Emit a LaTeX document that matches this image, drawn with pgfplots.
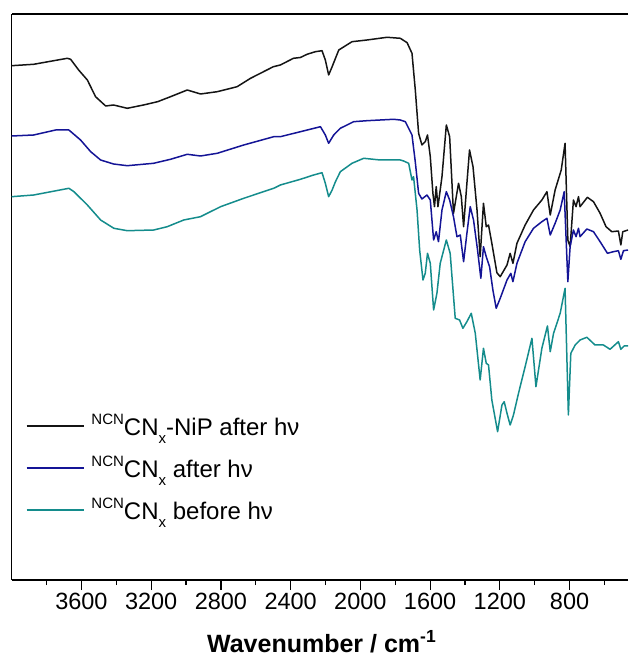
\documentclass[border=0pt]{standalone}
\usepackage{pgfplots}
\pgfplotsset{compat=1.18}
\usepackage{pgfplotstable}
\usepackage{fontspec}
\setmainfont{Liberation Sans}
\definecolor{cblack}{RGB}{20,20,20}
\definecolor{cblue}{RGB}{20,20,150}
\definecolor{cteal}{RGB}{20,140,140}
\newcommand\sbx[1]{\raisebox{-0.36em}{\fontsize{15}{15}\selectfont #1}}
\newcommand\spx[1]{\raisebox{0.42em}{\fontsize{15}{15}\selectfont #1}}

\pgfplotstableread{
wn I
4000 514.3
3874 515.7
3681 521.7
3662 520.7
3616 510
3566 500
3519 483.3
3461 474
3416 475
3337 471.7
3244 475
3163 478.3
3089 483.3
2993 490
2917 486
2821 488.3
2707 493.3
2630 501.7
2499 513.3
2459 515
2384 521.7
2344 522.5
2306 525.7
2258 528.3
2220 529.3
2201 520
2182 505
2162 513.3
2124 530
2048 538.3
1962 540
1847 542.7
1771 541.7
1732 537.3
1704 526.7
1685 490
1675 467
1666 446.7
1647 435
1628 438.3
1615 445
1599 423.3
1584 386.7
1575 373.3
1565 393.3
1555 373.3
1532 403.3
1507 455
1488 443.3
1466 366.7
1437 396.7
1421 383.3
1408 353.3
1389 396.7
1374 430
1354 413.3
1331 370
1313 323.3
1294 376.7
1278 353.3
1265 355
1246 336.7
1217 307.3
1198 303.3
1159 315
1141 326.7
1125 316.7
1102 336.7
1055 355
1007 370
959 380
930 388.3
911 365
883 390
848 410
826 436.7
810 340
797 333.3
778 380
763 373.3
749 383.3
740 373.3
698 382.7
663 378.3
625 366.7
591 353.3
558 348.3
520 349
506 335
495 348.3
465 350
}\tblack

\pgfplotstableread{
wn I
4000 444
3874 445
3748 450
3672 450
3605 440
3547 428.3
3490 420
3416 416
3337 414.3
3186 416.7
3089 420.7
2993 425.7
2917 424
2821 426.7
2669 435
2497 443.3
2459 443.3
2344 448.3
2229 453.3
2201 445
2182 436.7
2153 445
2115 451.7
2039 458.3
1962 459.3
1809 460.7
1771 460
1742 458.3
1704 445
1685 418
1666 386.7
1647 381
1618 385
1599 380
1580 340
1565 348.3
1552 338.3
1532 370
1507 388.3
1488 380
1466 363.3
1446 343.3
1427 345
1408 318.3
1389 346.7
1370 373.3
1351 360
1328 330
1309 301.7
1294 333.3
1278 323.3
1259 313.3
1240 290
1221 271.7
1198 281.7
1159 300
1137 306.7
1125 298.3
1102 316.7
1055 338.3
1007 351.7
959 358.3
930 361.7
911 345
883 356.7
854 370
831 388.3
810 298.3
797 333.3
778 350
763 343.3
749 351.7
740 343.3
701 351
663 348.3
625 338.3
583 326.7
549 328.3
520 329.3
506 320.7
491 329.3
465 330
}\tblue

\pgfplotstableread{
wn I
4000 383.3
3874 385
3672 391.7
3643 388.3
3566 375
3490 360
3414 351.7
3337 349.3
3185 350
3108 353.3
3013 360
2917 363.3
2802 373.3
2669 381.7
2497 391.7
2459 395
2344 400.7
2268 405
2220 407.3
2201 396.7
2182 383.3
2162 390
2143 398.3
2115 408.3
2048 416.7
1981 421.7
1886 420
1771 420
1752 419
1723 416.7
1704 400
1695 403.3
1675 370
1660 330
1641 300
1628 306.7
1615 326.7
1599 316.7
1580 270
1561 286.7
1542 316.7
1507 340
1485 326.7
1456 261.7
1431 260
1412 251.7
1389 258.3
1364 266.7
1341 246.7
1313 200
1294 231.7
1278 216.7
1265 215
1246 180
1213 148.3
1188 175
1175 178.3
1159 166.7
1141 155
1122 165
1093 186.7
1055 213.3
1016 241.7
993 193.3
959 231.7
927 254
911 228.3
892 246.7
854 266.7
826 291.7
807 165
793 226.7
768 235
740 240
701 242.7
654 235
606 235
568 230.7
520 238.3
506 230.7
487 234
465 234
}\tteal

\begin{document}
\begin{tikzpicture}
\begin{axis}[
  name=ax,
  scale only axis,
  width=616.3pt, height=566pt,
  x dir=reverse,
  xmin=465, xmax=4000,
  ymin=0, ymax=566,
  axis x line*=box, axis y line*=left,
  axis line style={-, line width=1.2pt},
  xtick={800,1200,...,3600},
  minor xtick={600,1000,...,3800},
  xtick pos=bottom,
  ytick=\empty,
  tick align=outside,
  major tick length=10pt,
  minor tick length=5pt,
  every tick/.style={line width=1.2pt, black},
  tick label style={font=\fontsize{23.5}{26}\selectfont},
  /pgf/number format/assume math mode=true,
  /pgf/number format/set thousands separator={},
  xlabel={\textbf{Wavenumber / cm\textsuperscript{-1}}},
  xlabel style={font=\fontsize{25}{28}\selectfont, at={(axis description cs:0.503,0)}, anchor=base, yshift=-72pt},
  every axis plot/.append style={line width=1.5pt, line join=round, no markers},
  legend cell align=left,
  legend image code/.code={\draw[#1] (0pt,4.5pt) -- (57pt,4.5pt);},
  legend style={draw=none, fill=none, inner sep=0pt, outer sep=0pt,
    at={(axis description cs:0.0232,0.2862)}, anchor=north west,
    row sep=17pt, column sep=7pt,
    font=\fontsize{24}{26}\selectfont,
    nodes={inner sep=0pt, text height=17pt, text depth=8pt}},
]
\addplot[cblack] table[x=wn,y=I]{\tblack};
\addlegendentry{\spx{NCN}CN\sbx{x}-NiP after hν}
\addplot[cblue] table[x=wn,y=I]{\tblue};
\addlegendentry{\spx{NCN}CN\sbx{x} after hν}
\addplot[cteal] table[x=wn,y=I]{\tteal};
\addlegendentry{\spx{NCN}CN\sbx{x} before hν}
\end{axis}
\pgfresetboundingbox
\path ([xshift=-11.7pt,yshift=-80pt]ax.south west) rectangle ([yshift=14pt]ax.north east);
\end{tikzpicture}
\end{document}
